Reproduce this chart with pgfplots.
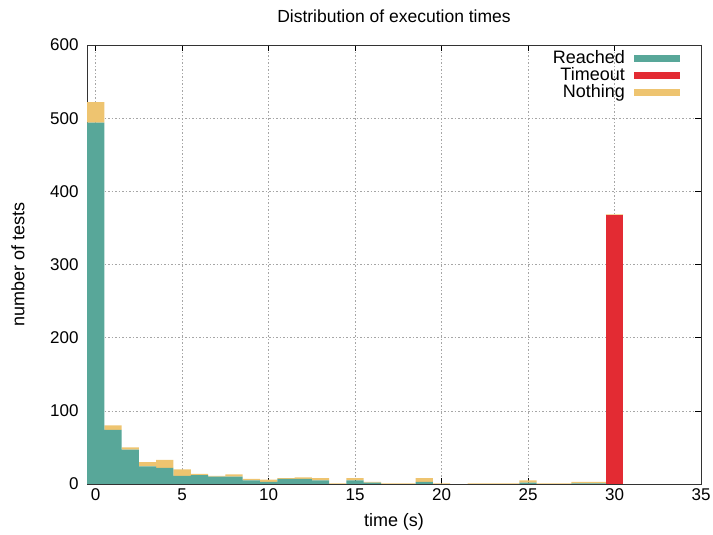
\documentclass[border=0pt]{standalone}
\usepackage{fontspec}
\setmainfont{Liberation Sans}
\usepackage{pgfplots}
\usepackage{pgfplotstable}
\pgfplotsset{compat=1.18}
\definecolor{reachedc}{RGB}{88,167,153}
\definecolor{timeoutc}{RGB}{227,43,51}
\definecolor{nothingc}{RGB}{238,196,112}
\pgfplotstableread{
x reached timeout nothing
0 494 0 28
1 74 0 6
2 47 0 3
3 24 0 6
4 22 0 11
5 11 0 9
6 12 0 2
7 10 0 1
8 10 0 3
9 5 0 2
10 3 0 3
11 7 0 1
12 7 0 2
13 5 0 3
14 0 0 1
15 5 0 3
16 2 0 1
17 0 0 1
18 0 0 1
19 3 0 5
20 0 0 1
22 0 0 1
23 0 0 1
24 0 0 1
25 2 0 3
26 0 0 1
27 0 0 1
28 1 0 2
29 1 0 2
30 0 368 1
}\datatable
\begin{document}
\begin{tikzpicture}
\useasboundingbox (0,0) rectangle (713bp,535bp);
\begin{axis}[
  at={(87bp,51bp)}, anchor=south west,
  scale only axis, width=614bp, height=439bp,
  xmin=-0.5, xmax=35, ymin=0, ymax=600,
  xtick={0,5,...,35}, ytick={0,100,...,600},
  tick align=inside, xtick pos=both, ytick pos=both,
  major tick length=6bp,
  tick style={black, line width=0.6bp},
  axis line style={line width=0.8bp, black!80},
  grid=major,
  major grid style={gray!70, line width=0.6bp, dash pattern=on 1.5bp off 2bp},
  /pgf/number format/assume math mode=true,
  tick label style={font=\fontsize{17bp}{20bp}\selectfont},
  yticklabel style={xshift=-5bp},
  xticklabel style={yshift=-1bp},
  title={Distribution of execution times},
  title style={at={(0.5,1)}, anchor=center, yshift=23bp, font=\fontsize{17.5bp}{20bp}\selectfont},
  xlabel={time (s)},
  xlabel style={at={(0.5,0)}, anchor=center, yshift=-38bp, font=\fontsize{18bp}{21bp}\selectfont},
  ylabel={number of tests},
  ylabel style={at={(0,0.5)}, anchor=center, yshift=69bp, font=\fontsize{18bp}{21bp}\selectfont},
  ybar stacked, bar width=1,
  legend plot pos=right, legend cell align=right,
  legend style={at={(1,1)}, anchor=north east, xshift=-18bp, yshift=-3bp,
    draw=none, fill=none, font=\fontsize{18bp}{21bp}\selectfont,
    row sep=0bp,
    /tikz/every odd column/.append style={column sep=8bp},
    nodes={inner sep=1bp, text height=12bp, text depth=3bp}},
  legend image code/.code={\fill[#1] (0bp,-3.5bp) rectangle (46bp,3.5bp);},
]
\addplot[fill=reachedc, draw=none] table[x=x, y=reached] {\datatable};
\addlegendentry{Reached}
\addplot[fill=timeoutc, draw=none] table[x=x, y=timeout] {\datatable};
\addlegendentry{Timeout}
\addplot[fill=nothingc, draw=none] table[x=x, y=nothing] {\datatable};
\addlegendentry{Nothing}
\end{axis}
\end{tikzpicture}
\end{document}
